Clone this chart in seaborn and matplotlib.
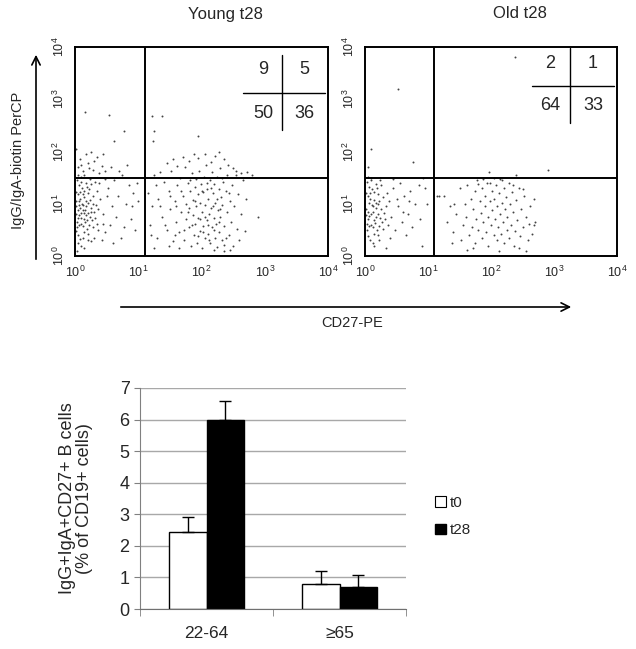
import matplotlib
matplotlib.use("Agg")
import matplotlib.pyplot as plt
from matplotlib.patches import Patch
import numpy as np
import pandas as pd
import seaborn as sns

# ---- flow panels: dot positions, in decades (log10) ----
young_left = [
    (0.02, 0.95), (0.05, 0.72), (0.08, 1.10), (0.03, 0.55), (0.12, 0.88), (0.15, 1.25), (0.06, 1.35),
    (0.10, 0.62), (0.18, 0.78), (0.21, 1.02), (0.04, 1.18), (0.14, 0.45), (0.25, 0.92), (0.09, 0.83),
    (0.17, 1.40), (0.01, 0.80), (0.22, 0.60), (0.07, 1.05), (0.28, 1.15), (0.13, 0.98), (0.19, 0.52),
    (0.03, 1.45), (0.11, 1.30), (0.24, 0.74), (0.16, 0.66), (0.30, 0.85), (0.05, 0.40), (0.20, 1.20),
    (0.08, 0.92), (0.26, 1.38), (0.02, 1.22), (0.14, 0.70), (0.33, 0.98), (0.10, 1.52), (0.18, 0.95),
    (0.06, 0.60), (0.23, 1.08), (0.12, 0.35), (0.29, 0.55), (0.04, 0.88), (0.15, 1.12), (0.21, 0.82),
    (0.09, 1.42), (0.35, 1.25), (0.27, 0.68), (0.01, 1.05), (0.13, 0.58), (0.19, 1.32), (0.07, 0.78),
    (0.32, 0.72), (0.16, 0.88), (0.24, 1.48), (0.11, 1.00), (0.03, 0.65), (0.20, 0.42), (0.28, 1.00),
    (0.08, 1.22), (0.17, 1.05), (0.36, 0.50), (0.05, 1.55), (0.14, 0.82), (0.22, 1.28), (0.10, 0.72),
    (0.31, 1.42), (0.02, 0.48), (0.19, 0.68), (0.26, 0.85), (0.12, 1.18), (0.06, 0.98), (0.34, 0.62),
    (0.05, 1.70), (0.12, 1.62), (0.20, 1.78), (0.28, 1.65), (0.35, 1.90), (0.18, 1.95), (0.42, 1.72),
    (0.08, 1.85), (0.25, 2.00), (0.38, 1.58), (0.15, 1.55), (0.30, 1.82), (0.45, 1.95), (0.02, 2.05),
    (0.22, 1.68), (0.48, 1.62), (0.10, 1.75),
    (0.40, 1.10), (0.45, 0.80), (0.52, 1.30), (0.48, 0.45), (0.58, 0.95), (0.62, 1.45), (0.55, 0.60),
    (0.68, 1.15), (0.72, 0.35), (0.80, 1.00), (0.75, 1.55), (0.88, 0.70), (0.92, 1.20), (0.85, 1.35),
    (0.95, 0.50), (1.00, 1.05), (0.42, 0.30), (0.60, 0.25), (0.38, 1.40), (0.65, 0.75), (0.50, 1.15),
    (0.78, 0.55), (0.98, 1.40), (0.44, 0.62), (0.70, 1.62), (0.82, 1.75), (0.57, 1.70), (0.90, 0.95),
    (0.36, 0.90), (0.47, 1.48),
    (0.05, 0.25), (0.15, 0.15), (0.25, 0.28), (0.10, 0.20), (0.30, 0.35), (0.20, 0.30), (0.08, 0.32),
    (0.03, 0.10),
]
young_right = [
    (1.15, 1.20), (1.18, 0.60), (1.22, 0.95), (1.25, 1.55), (1.30, 0.35), (1.32, 1.10), (1.38, 0.75),
    (1.40, 1.42), (1.45, 0.50), (1.48, 1.25), (1.50, 0.90), (1.52, 1.62), (1.55, 0.28), (1.58, 1.05),
    (1.60, 0.65), (1.62, 1.35), (1.65, 0.45), (1.66, 1.50), (1.68, 0.85), (1.70, 1.15), (1.72, 0.30),
    (1.74, 1.70), (1.75, 0.70), (1.76, 1.00), (1.78, 1.40), (1.80, 0.55), (1.81, 0.92), (1.82, 1.25),
    (1.84, 0.20), (1.85, 1.58), (1.86, 0.78), (1.87, 1.08), (1.88, 0.40), (1.89, 1.32), (1.90, 0.62),
    (1.91, 1.48), (1.92, 0.95), (1.93, 0.25), (1.94, 1.18), (1.95, 0.72), (1.96, 1.62), (1.97, 0.48),
    (1.98, 1.02), (1.99, 1.38), (2.00, 0.85), (2.01, 0.15), (2.02, 1.22), (2.03, 0.58), (2.04, 1.52),
    (2.05, 0.35), (2.06, 0.98), (2.07, 1.75), (2.08, 0.68), (2.09, 1.28), (2.10, 0.42), (2.11, 1.10),
    (2.12, 0.80), (2.13, 1.45), (2.14, 0.25), (2.15, 0.92), (2.16, 1.60), (2.17, 0.55), (2.18, 1.20),
    (2.19, 0.72), (2.20, 1.38), (2.21, 0.35), (2.22, 1.02), (2.23, 0.62), (2.24, 1.52), (2.25, 0.18),
    (2.26, 0.88), (2.27, 1.28), (2.28, 0.45), (2.29, 1.68), (2.30, 0.75), (2.31, 1.12), (2.32, 0.30),
    (2.33, 0.98), (2.34, 1.42), (2.35, 0.58), (2.36, 0.22), (2.38, 1.25), (2.40, 0.85), (2.41, 1.55),
    (2.43, 0.40), (2.45, 1.05), (2.46, 0.65), (2.48, 1.35), (2.50, 0.20), (2.52, 0.95), (2.54, 1.62),
    (2.56, 0.52), (2.58, 1.18), (2.60, 0.30), (2.62, 0.80), (2.65, 1.45), (2.68, 0.48), (2.70, 1.10),
    (1.35, 1.60), (1.45, 1.78), (1.55, 1.85), (1.70, 1.90), (1.80, 1.82), (1.95, 1.88), (2.05, 1.95),
    (2.15, 1.80), (2.22, 1.92), (2.28, 2.00), (2.35, 1.85), (2.42, 1.75), (2.50, 1.68), (1.62, 1.72),
    (1.88, 1.95), (2.55, 1.55), (2.62, 1.58), (2.72, 1.60), (2.80, 1.55),
    (1.85, 0.60), (1.90, 1.05), (1.95, 0.38), (2.00, 1.25), (2.05, 0.75), (2.10, 0.60), (2.15, 1.30),
    (2.20, 0.50), (2.25, 1.10), (2.30, 0.90), (1.78, 0.85), (1.82, 1.45), (2.02, 0.45), (2.08, 1.40),
    (2.18, 0.95), (2.12, 0.30), (1.98, 0.70), (2.28, 0.65), (2.32, 1.50), (1.72, 0.50), (1.68, 1.25),
    (2.38, 0.35), (2.44, 1.20), (1.60, 0.95), (1.58, 0.40), (1.50, 1.15), (1.42, 0.60), (1.35, 0.95),
    (1.28, 1.35), (1.20, 0.40), (1.25, 0.15), (1.48, 0.20), (1.65, 0.15), (2.45, 0.12), (2.35, 0.10),
    (2.20, 0.12),
]
young_outliers = [
    (0.16, 2.75), (0.53, 2.70), (0.78, 2.40), (0.62, 2.20), (1.22, 2.67), (1.38, 2.67), (1.25, 2.40),
    (1.95, 2.30), (1.23, 2.20), (2.90, 0.75),
]
old_left = [
    (0.02, 0.90), (0.05, 0.70), (0.08, 1.10), (0.03, 0.50), (0.12, 0.85), (0.15, 1.22), (0.06, 1.32),
    (0.10, 0.60), (0.18, 0.75), (0.21, 1.00), (0.04, 1.15), (0.14, 0.42), (0.25, 0.90), (0.09, 0.80),
    (0.17, 1.38), (0.01, 0.78), (0.22, 0.58), (0.07, 1.02), (0.28, 1.12), (0.13, 0.95), (0.19, 0.50),
    (0.03, 1.42), (0.11, 1.28), (0.24, 0.72), (0.16, 0.64), (0.30, 0.82), (0.05, 0.38), (0.20, 1.18),
    (0.08, 0.30), (0.26, 1.35), (0.02, 1.20), (0.14, 0.68), (0.33, 0.95), (0.10, 1.45), (0.18, 0.92),
    (0.06, 0.58), (0.23, 1.05), (0.12, 0.25), (0.29, 0.52), (0.04, 0.85), (0.15, 1.08), (0.21, 0.80),
    (0.09, 1.50), (0.35, 1.20), (0.27, 0.66), (0.13, 0.55), (0.19, 1.30), (0.07, 0.76), (0.32, 0.70),
    (0.24, 1.45), (0.11, 0.98), (0.03, 0.62), (0.20, 0.40), (0.08, 1.20), (0.17, 1.02), (0.05, 1.52),
    (0.22, 0.30), (0.15, 0.20),
    (0.38, 1.05), (0.42, 0.75), (0.45, 1.30), (0.48, 0.50), (0.52, 0.95), (0.55, 1.40), (0.58, 0.65),
    (0.62, 1.15), (0.65, 0.40), (0.68, 0.80), (0.72, 1.25), (0.75, 0.55), (0.80, 1.00), (0.85, 1.35),
    (0.88, 0.70), (0.92, 1.50), (0.40, 0.35), (0.50, 1.10), (0.60, 0.85), (0.36, 0.60), (0.44, 1.48),
    (0.70, 1.05), (0.95, 1.30), (0.98, 1.00), (0.34, 0.15), (0.90, 0.20),
]
old_right = [
    (1.15, 1.15), (1.18, 1.15), (1.25, 1.15), (1.30, 0.65), (1.35, 0.95), (1.40, 0.45), (1.45, 0.80),
    (1.50, 1.30), (1.52, 0.30), (1.55, 0.60), (1.58, 1.00), (1.60, 0.75), (1.62, 1.35), (1.65, 0.40),
    (1.68, 1.10), (1.70, 0.55), (1.72, 0.90), (1.74, 1.25), (1.75, 0.25), (1.76, 0.70), (1.78, 1.45),
    (1.80, 0.50), (1.82, 1.05), (1.84, 0.82), (1.85, 1.30), (1.86, 0.35), (1.88, 0.65), (1.90, 1.15),
    (1.91, 0.95), (1.92, 0.45), (1.94, 1.40), (1.95, 0.75), (1.96, 0.20), (1.98, 1.05), (2.00, 0.60),
    (2.01, 1.25), (2.02, 0.88), (2.04, 0.40), (2.05, 1.10), (2.06, 0.70), (2.08, 1.35), (2.09, 0.30),
    (2.10, 0.95), (2.11, 0.55), (2.12, 1.20), (2.14, 0.80), (2.15, 1.48), (2.16, 0.42), (2.18, 1.02),
    (2.19, 0.65), (2.20, 1.30), (2.21, 0.25), (2.22, 0.90), (2.24, 1.12), (2.25, 0.50), (2.26, 0.75),
    (2.28, 1.40), (2.29, 0.35), (2.30, 1.00), (2.32, 0.60), (2.33, 1.22), (2.35, 0.85), (2.36, 0.20),
    (2.38, 0.48), (2.40, 1.08), (2.42, 0.68), (2.44, 1.30), (2.46, 0.38), (2.48, 0.90), (2.50, 0.55),
    (2.52, 1.15), (2.55, 0.75), (2.58, 0.30), (2.60, 0.62), (2.62, 0.95), (2.65, 0.42), (2.68, 0.60),
    (2.70, 0.65), (1.72, 0.15), (1.88, 1.48), (2.05, 1.50), (1.42, 1.00), (1.38, 0.25), (1.62, 0.12),
    (2.45, 0.15), (2.55, 0.10), (2.12, 0.10), (1.80, 1.38), (1.98, 1.40), (2.18, 1.45), (2.35, 1.35),
    (2.50, 1.28), (2.68, 1.10),
]
old_outliers = [
    (0.52, 3.20), (2.38, 3.80), (0.10, 2.05), (0.76, 1.80), (1.97, 1.60), (2.40, 1.55), (2.90, 1.65),
    (0.05, 1.70),
]

young_quadrants = ["9", "5", "50", "36"]
old_quadrants = ["2", "1", "64", "33"]
gate_x = 1.1   # decades
gate_y = 1.5

# ---- bar chart ----
age_groups = ["22-64", "\u226565"]
t0_vals = [2.43, 0.78]
t28_vals = [6.0, 0.70]
t0_err = [0.48, 0.42]
t28_err = [0.60, 0.37]

sns.set_style("white")
plt.rcParams["font.family"] = ["Liberation Sans", "DejaVu Sans"]
plt.rcParams["mathtext.fontset"] = "custom"
plt.rcParams["mathtext.rm"] = "Liberation Sans"

W, H = 636, 649
fig = plt.figure(figsize=(W / 100, H / 100), dpi=100)


def fig_rect(left, top, right, bottom):
    return [left / W, 1 - bottom / H, (right - left) / W, (bottom - top) / H]


def flow_panel(rect, dots, title, title_x, quads, qpos):
    ax = fig.add_axes(rect)
    df = pd.DataFrame(dots, columns=["lx", "ly"])
    df["x"] = 10 ** df["lx"]
    df["y"] = 10 ** df["ly"]
    sns.scatterplot(data=df, x="x", y="y", s=2, color="#444444", linewidth=0, ax=ax)
    ax.set_xscale("log")
    ax.set_yscale("log")
    ax.set_xlim(1, 1e4)
    ax.set_ylim(1, 1e4)
    ax.axvline(10 ** gate_x, color="black", lw=1.4)
    ax.axhline(10 ** gate_y, color="black", lw=1.4)
    for sp in ax.spines.values():
        sp.set_color("black")
        sp.set_linewidth(1.4)
    ax.tick_params(which="major", direction="out", length=4, width=1, labelsize=9, pad=2)
    ax.tick_params(which="minor", direction="out", length=2, width=0.8)
    ax.set_xticks([1, 10, 100, 1000, 10000])
    ax.set_yticks([1, 10, 100, 1000, 10000])
    for t in ax.get_yticklabels():
        t.set_rotation(90)
        t.set_va("center")
    ax.set_xlabel("")
    ax.set_ylabel("")
    fig.text(title_x / W, 1 - 14 / H, title, ha="center", va="center", fontsize=12)
    # quadrant percentage box
    (hx0, hx1, hy), (vx, vy0, vy1), cols, rows = qpos
    ax.plot([hx0, hx1], [hy, hy], color="black", lw=1, transform=ax.transAxes)
    ax.plot([vx, vx], [vy0, vy1], color="black", lw=1, transform=ax.transAxes)
    for i, q in enumerate(quads):
        ax.text(cols[i % 2], rows[i // 2], q, transform=ax.transAxes, ha="center", va="center", fontsize=13)
    return ax


flow_panel(fig_rect(75, 47, 328, 256), young_left + young_right + young_outliers, "Young t28", 225,
           young_quadrants, ((0.664, 0.99, 0.78), (0.818, 0.962, 0.603), (0.745, 0.905), (0.89, 0.684)))
flow_panel(fig_rect(365, 47, 617, 256), old_left + old_right + old_outliers, "Old t28", 520,
           old_quadrants, ((0.663, 0.988, 0.813), (0.813, 0.995, 0.636), (0.735, 0.905), (0.923, 0.722)))

# axis arrows and labels shared by the flow panels
fig.add_artist(matplotlib.patches.FancyArrowPatch((36 / W, 1 - 262 / H), (36 / W, 1 - 52 / H),
               transform=fig.transFigure, arrowstyle="->,head_length=6,head_width=3", color="black", lw=1.2))
fig.add_artist(matplotlib.patches.FancyArrowPatch((118 / W, 1 - 307 / H), (574 / W, 1 - 307 / H),
               transform=fig.transFigure, arrowstyle="->,head_length=6,head_width=3", color="black", lw=1.2))
fig.text(18 / W, 1 - 160 / H, "IgG/IgA-biotin PerCP", rotation=90, ha="center", va="center", fontsize=10.5)
fig.text(352 / W, 1 - 323 / H, "CD27-PE", ha="center", va="center", fontsize=10.5)

# ---- bar chart ----
bar_df = pd.DataFrame({
    "age": age_groups * 2,
    "time": ["t0"] * 2 + ["t28"] * 2,
    "pct": t0_vals + t28_vals,
})
axb = fig.add_axes(fig_rect(140, 388, 406, 609))
sns.barplot(data=bar_df, x="age", y="pct", hue="time", order=age_groups,
            palette={"t0": "white", "t28": "black"}, edgecolor="black", linewidth=1,
            width=0.57, errorbar=None, legend=False, ax=axb)
for cont, errs in zip(axb.containers, [t0_err, t28_err]):
    for bar, e in zip(cont, errs):
        cx = bar.get_x() + bar.get_width() / 2
        axb.errorbar(cx, bar.get_height(), yerr=[[0], [e]], color="black", lw=1,
                     capsize=4, capthick=1, zorder=1)
axb.set_ylim(0, 7)
axb.set_xlim(-0.5, 1.5)
axb.set_yticks(range(0, 8))
axb.yaxis.grid(True, color="#a8a8a8", lw=1)
axb.set_axisbelow(True)
for s in ["top", "right"]:
    axb.spines[s].set_visible(False)
axb.spines["left"].set_color("#808080")
axb.spines["bottom"].set_color("#707070")
axb.tick_params(axis="y", direction="out", length=4, color="#808080", labelsize=13, left=True)
axb.set_xticks([-0.5, 0.5, 1.5], minor=True)
axb.tick_params(axis="x", which="minor", direction="out", length=5, color="#808080", bottom=True)
axb.tick_params(axis="x", which="major", length=0, labelsize=12.5, pad=12)
axb.set_xlabel("")
axb.set_ylabel("IgG+IgA+CD27+ B cells\n(% of CD19+ cells)", fontsize=13, linespacing=1.0)
axb.yaxis.set_label_coords(-0.175, 0.5)

handles = [Patch(facecolor="white", edgecolor="black", lw=0.8), Patch(facecolor="black", edgecolor="black")]
fig.legend(handles, ["t0", "t28"], loc="center left", bbox_to_anchor=(0.663, 0.204), frameon=False,
           fontsize=11, handlelength=0.7, handleheight=0.7, handletextpad=0.25, labelspacing=0.9)

fig.savefig("out.png", dpi=100)
